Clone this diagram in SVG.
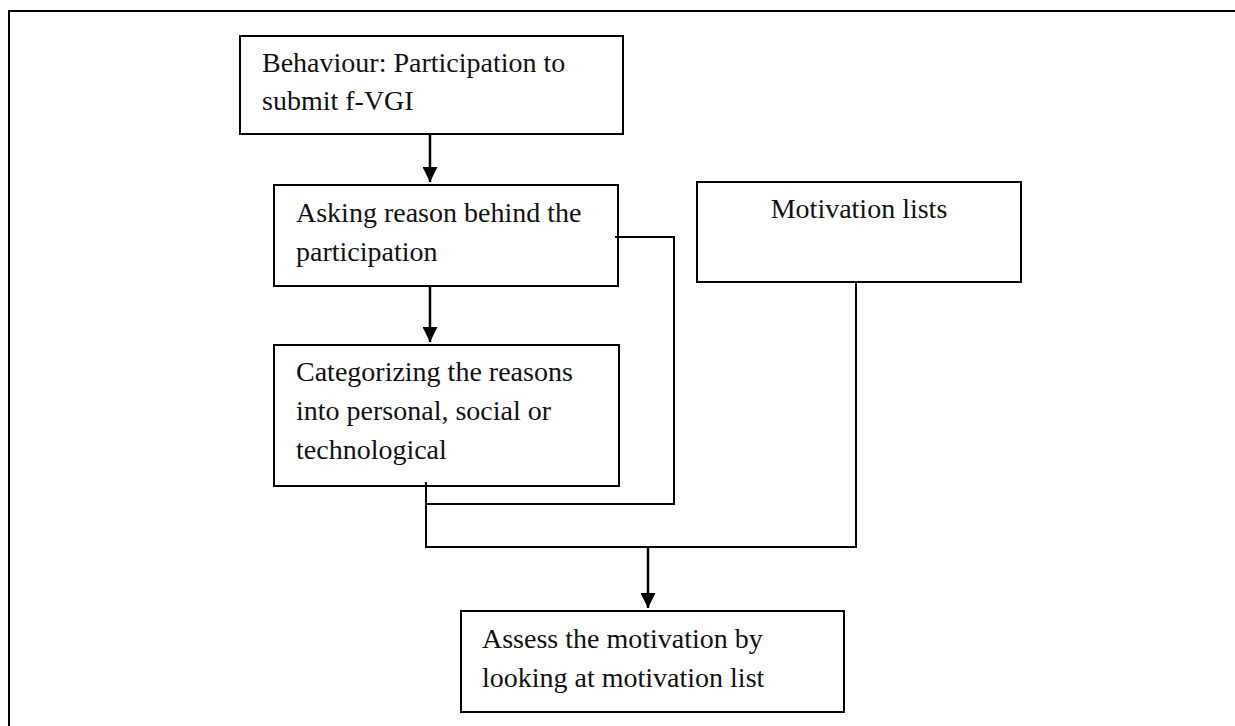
<svg xmlns="http://www.w3.org/2000/svg" width="1235" height="726" viewBox="0 0 1235 726">
<style>
.box{fill:#fff;stroke:#000;stroke-width:2}
.t{font-family:"Liberation Serif","Times New Roman",serif;font-size:28px;fill:#111}
.c{fill:none;stroke:#000;stroke-width:2}
.a{fill:none;stroke:#000;stroke-width:2.5}
</style>
<defs>
<marker id="ah" markerUnits="userSpaceOnUse" markerWidth="16" markerHeight="15" refX="15" refY="7.5" orient="auto">
<path d="M0,0 L15,7.5 L0,15 Z" fill="#000"/>
</marker>
</defs>
<rect width="1235" height="726" fill="#fff"/>
<path d="M9,730 L9,11 L1240,11" fill="none" stroke="#000" stroke-width="2"/>
<g id="connectors">
<path class="a" d="M430,134 L430,182" marker-end="url(#ah)"/>
<path class="a" d="M430,286 L430,342" marker-end="url(#ah)"/>
<path class="c" d="M615,237 L674,237 L674,504 L426,504"/>
<path class="c" d="M426,482 L426,547 L856,547 L856,282"/>
<path class="a" d="M648,547 L648,608" marker-end="url(#ah)"/>
</g>
<g id="n1">
<rect class="box" x="240" y="36" width="383" height="98"/>
<text class="t" x="262" y="72">Behaviour: Participation to</text>
<text class="t" x="262" y="110">submit f-VGI</text>
</g>
<g id="n2">
<rect class="box" x="274" y="185" width="344" height="101"/>
<text class="t" x="296" y="222">Asking reason behind the</text>
<text class="t" x="296" y="261">participation</text>
</g>
<g id="n3">
<rect class="box" x="274" y="345" width="345" height="141"/>
<text class="t" x="296" y="381">Categorizing the reasons</text>
<text class="t" x="296" y="420">into personal, social or</text>
<text class="t" x="296" y="459">technological</text>
</g>
<g id="n4">
<rect class="box" x="697" y="182" width="324" height="100"/>
<text class="t" x="859" y="218" text-anchor="middle">Motivation lists</text>
</g>
<g id="n5">
<rect class="box" x="461" y="611" width="383" height="101"/>
<text class="t" x="482" y="648">Assess the motivation by</text>
<text class="t" x="482" y="687">looking at motivation list</text>
</g>
<path class="c" d="M615,237 L618,237"/>
<path class="c" d="M426,482 L426,487"/>
</svg>
